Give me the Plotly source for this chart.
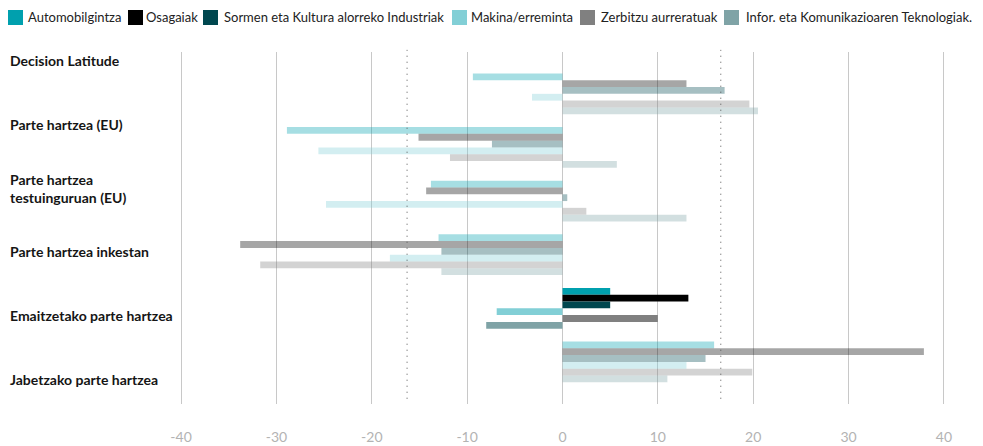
import plotly.graph_objects as go

categories = ["Decision Latitude", "Parte hartzea (EU)", "Parte hartzea<br>testuinguruan (EU)",
              "Parte hartzea inkestan", "Emaitzetako parte hartzea", "Jabetzako parte hartzea"]
highlight = "Emaitzetako parte hartzea"

sectors = ["Automobilgintza", "Osagaiak", "Sormen eta Kultura alorreko Industriak",
           "Makina/erreminta", "Zerbitzu aurreratuak", "Infor. eta Komunikazioaren Teknologiak."]
colors = ["#00a0ae", "#000000", "#00474f", "#82cfd6", "#808080", "#7fa3a6"]

automobilgintza = [-9.4, -28.9, -13.8, -13.0, 5.0, 15.9]
osagaiak = [13.0, -15.1, -14.3, -33.8, 13.2, 37.9]
sormen = [17.0, -7.4, 0.5, -12.7, 5.0, 15.0]
makina = [-3.2, -25.6, -24.8, -18.1, -6.9, 13.0]
zerbitzu = [19.6, -11.8, 2.5, -31.7, 10.0, 19.9]
infor = [20.5, 5.7, 13.0, -12.7, -8.0, 11.0]
values = [automobilgintza, osagaiak, sormen, makina, zerbitzu, infor]

x_ticks = [-40, -30, -20, -10, 0, 10, 20, 30, 40]
x_ticktext = ["-40", "-30", "-20", "-10", "0", "10", "20", "30", "40"]
ref_lines = [-16.3, 16.6]

# the page adds an 8px body margin, so the figure is drawn 8px smaller
OFF = 8
FW, FH = 983 - OFF, 446 - OFF
L, R, T, B = 154, 20, 44, 42
W, H = FW - L - R, FH - T - B


def px_x(px):
    return (px - OFF - L) / W


def px_y(py):
    return (FH - B - (py - OFF)) / H


fig = go.Figure()

opac = [1.0 if c == highlight else 0.35 for c in categories]
for name, col, vals in zip(sectors, colors, values):
    fig.add_trace(go.Bar(
        x=vals, y=categories, orientation="h", name=name,
        marker=dict(color=col, opacity=opac, line=dict(width=0)),
        showlegend=False,
    ))

for v in ref_lines:
    fig.add_shape(type="line", xref="x", yref="paper", x0=v, x1=v, y0=0.015, y1=1.006,
                  line=dict(color="#555555", width=1, dash="1px,5px"))

# category labels, on their own evenly spaced axis
for i, c in enumerate(categories):
    fig.add_annotation(text=c, xref="paper", yref="y2", x=px_x(8), y=i,
                       xanchor="left", yanchor="middle", align="left", showarrow=False,
                       font=dict(family="Lato", size=14, color="#151515", weight="bold"))

# legend row
legend_sq = [8, 128, 203, 452, 580, 724]
legend_tx = [26, 144, 222, 469, 599, 744]
for name, col, sx, tx in zip(sectors, colors, legend_sq, legend_tx):
    fig.add_shape(type="rect", xref="paper", yref="paper",
                  x0=px_x(sx), x1=px_x(sx + 15), y0=px_y(25), y1=px_y(10),
                  fillcolor=col, line=dict(width=0))
    fig.add_annotation(text=name, xref="paper", yref="paper", x=px_x(tx), y=px_y(17),
                       xanchor="left", yanchor="middle", showarrow=False,
                       font=dict(family="Lato", size=13, color="#222222"))

fig.update_layout(
    width=FW, height=FH,
    margin=dict(l=L, r=R, t=T, b=B),
    paper_bgcolor="white", plot_bgcolor="white",
    barmode="group", bargap=0.24, bargroupgap=0,
    xaxis=dict(range=[-42, 42], tickvals=x_ticks, ticktext=x_ticktext, showgrid=True,
               gridcolor="#c8c8c8", gridwidth=1, automargin=False,
               zeroline=False, showline=False, ticks="outside", ticklen=20,
               tickcolor="rgba(0,0,0,0)", tickfont=dict(family="Lato", size=14, color="#b3b3b3")),
    yaxis=dict(type="category", range=[5.785, -0.78], showticklabels=False, showgrid=False,
               zeroline=False, showline=False, automargin=False),
    yaxis2=dict(overlaying="y", anchor="x", side="left", range=[5.385, -0.137], automargin=False,
                showticklabels=False, showgrid=False, zeroline=False, showline=False),
    showlegend=False,
)

fig.write_html("out.html")
